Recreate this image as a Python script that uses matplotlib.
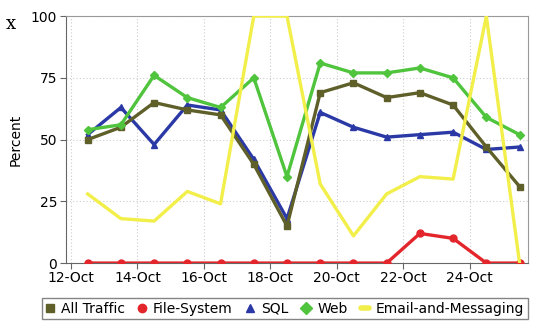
import numpy as np
import pandas as pd
import matplotlib
matplotlib.use("Agg")
import matplotlib.pyplot as plt
import matplotlib.dates as mdates
from matplotlib.lines import Line2D

# data (one point per day, plotted at midday)
days = ["2011-10-12 12:00", "2011-10-13 12:00", "2011-10-14 12:00", "2011-10-15 12:00",
        "2011-10-16 12:00", "2011-10-17 12:00", "2011-10-18 12:00", "2011-10-19 12:00",
        "2011-10-20 12:00", "2011-10-21 12:00", "2011-10-22 12:00", "2011-10-23 12:00",
        "2011-10-24 12:00", "2011-10-25 12:00"]
all_traffic = [50, 55, 65, 62, 60, 40, 15, 69, 73, 67, 69, 64, 47, 31]
file_system = [0, 0, 0, 0, 0, 0, 0, 0, 0, 0, 12, 10, 0, 0]
sql = [52, 63, 48, 64, 62, 42, 18, 61, 55, 51, 52, 53, 46, 47]
web = [54, 56, 76, 67, 63, 75, 35, 81, 77, 77, 79, 75, 59, 52]
email = [28, 18, 17, 29, 24, 100, 100, 32, 11, 28, 35, 34, 100, 0]

series_names = ["All Traffic", "File-System", "SQL", "Web", "Email-and-Messaging"]
colors = ["#5f5f2a", "#e3262b", "#2b39a6", "#4fc43c", "#f2ef4a"]
markers = ["s", "o", "^", "D", None]

x = pd.to_datetime(days)

fig = plt.figure(figsize=(5.37, 3.22), dpi=100)
ax = fig.add_axes([0.122, 0.183, 0.861, 0.767])

# draw back to front like the original
order = [4, 3, 0, 2, 1]
values = [all_traffic, file_system, sql, web, email]
for i in order:
    ms = 5 if markers[i] != "D" else 4.5
    ax.plot(x, values[i], color=colors[i], lw=2.4, marker=markers[i],
            markersize=ms, clip_on=True, zorder=3 + (4 - order.index(i)))

ax.set_ylim(0, 100)
ax.set_yticks([0, 25, 50, 75, 100])
ax.set_xlim(pd.Timestamp("2011-10-11 20:00"), pd.Timestamp("2011-10-25 18:00"))
ax.xaxis.set_major_locator(mdates.DayLocator(bymonthday=[12, 14, 16, 18, 20, 22, 24]))
ax.xaxis.set_major_formatter(mdates.DateFormatter("%d-%b"))

ax.grid(True, color="#cccccc", linestyle=(0, (1, 2)), lw=0.8)
for s in ax.spines.values():
    s.set_color("#999999")
ax.spines["left"].set_color("#666666")
ax.spines["bottom"].set_color("#666666")
ax.tick_params(length=4, color="#666666", labelsize=10, pad=2)
ax.set_ylabel("Percent", fontsize=10, labelpad=6)

handles = [Line2D([], [], color=colors[i], marker=markers[i], linestyle="None",
                  markersize=6) for i in range(4)]
handles.append(Line2D([], [], color=colors[4], lw=4, solid_capstyle="round"))
leg = fig.legend(handles, series_names, loc="lower left", ncol=5,
                 bbox_to_anchor=(0.078, 0.008, 0.905, 0.07), mode="expand",
                 fontsize=10, frameon=True, fancybox=False, handlelength=0.6,
                 handletextpad=0.5, columnspacing=0.9, borderpad=0.25,
                 borderaxespad=0)
leg.get_frame().set_edgecolor("#666666")
leg.get_frame().set_linewidth(1)

fig.text(0.01, 0.91, "x", fontsize=13, family="DejaVu Serif")

fig.savefig("out.png", dpi=100)
